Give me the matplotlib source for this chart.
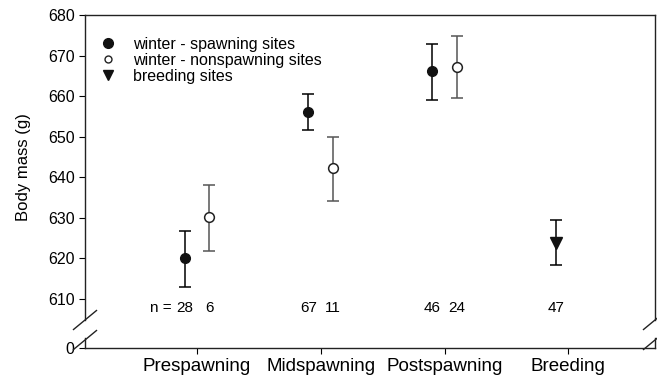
import matplotlib.pyplot as plt
from matplotlib.lines import Line2D
import numpy as np

plt.rcParams['font.family'] = ['Liberation Sans', 'DejaVu Sans']

# dados
categorias = ['Prespawning', 'Midspawning', 'Postspawning', 'Breeding']

# winter - spawning sites
media_desova = [620.1, 656.2, 666.3]
sup_desova = [626.8, 660.5, 672.9]
inf_desova = [613.0, 651.7, 659.1]
n_desova = [28, 67, 46]

# winter - nonspawning sites
media_nao_desova = [630.1, 642.2, 667.3]
sup_nao_desova = [638.1, 649.9, 674.7]
inf_nao_desova = [621.9, 634.1, 659.5]
n_nao_desova = [6, 11, 24]

# breeding sites
media_reproducao = [623.9]
sup_reproducao = [629.5]
inf_reproducao = [618.4]
n_reproducao = [47]

W, H = 657, 375
fig = plt.figure(figsize=(W / 100, H / 100), dpi=100)

esq, dir_ = 85, 655
ax = fig.add_axes([esq / W, (H - 320) / H, (dir_ - esq) / W, 305 / H])
ax0 = fig.add_axes([esq / W, (H - 348) / H, (dir_ - esq) / W, 10 / H])

x = np.arange(1, len(categorias) + 1)
desl = 0.1

def barras(eixo, xs, media, sup, inf, **kw):
    media = np.array(media)
    yerr = [media - np.array(inf), np.array(sup) - media]
    eixo.errorbar(xs, media, yerr=yerr, fmt='none', capsize=4.5,
                  elinewidth=1.1, capthick=1.1, ecolor=kw.pop('ecolor', 'black'))
    eixo.plot(xs, media, linestyle='none', **kw)

barras(ax, x[:3] - desl, media_desova, sup_desova, inf_desova,
       marker='o', markersize=7, color='#111111')
barras(ax, x[:3] + desl, media_nao_desova, sup_nao_desova, inf_nao_desova,
       marker='o', markersize=7, markerfacecolor='white',
       markeredgecolor='#222222', markeredgewidth=1.1, ecolor='#555555')
barras(ax, x[3:] - desl, media_reproducao, sup_reproducao, inf_reproducao,
       marker='v', markersize=8, color='#111111')

# tamanhos de amostra
y_n = 607.8
fs_n = 11
for xi, n in zip(x[:3] - desl, n_desova):
    ax.text(xi, y_n, str(n), ha='center', va='center', fontsize=fs_n)
for xi, n in zip(x[:3] + desl, n_nao_desova):
    ax.text(xi, y_n, str(n), ha='center', va='center', fontsize=fs_n)
for xi, n in zip(x[3:] - desl, n_reproducao):
    ax.text(xi, y_n, str(n), ha='center', va='center', fontsize=fs_n)
ax.annotate('n = ', xy=(x[0] - desl, y_n), xytext=(-6, 0),
            textcoords='offset points', ha='right', va='center', fontsize=fs_n)

xlim = (0.095, 4.70)
ax.set_xlim(*xlim)
ax.set_ylim(604.8, 680)
ax.set_yticks(np.arange(610, 681, 10))
ax.set_xticks([])
ax.spines['bottom'].set_visible(False)
ax.tick_params(axis='y', direction='out', length=4.5, labelsize=11.5, pad=3)
ax.set_ylabel('Body mass (g)', fontsize=12, labelpad=12)

ax0.set_xlim(*xlim)
ax0.set_ylim(0, 10)
ax0.set_yticks([0])
ax0.set_xticks(x)
ax0.set_xticklabels(categorias)
ax0.spines['top'].set_visible(False)
ax0.tick_params(direction='out', length=4.5, labelsize=11.5, pad=3)
ax0.tick_params(axis='x', labelsize=13.5, pad=3)
ax0.patch.set_alpha(0)

for a in (ax, ax0):
    for s in a.spines.values():
        s.set_linewidth(1.0)
        s.set_color('#222222')

# marcas de quebra do eixo
for xc in (esq, dir_):
    for yc in (320, 340):
        fig.add_artist(Line2D([(xc - 11.5) / W, (xc + 11.5) / W],
                              [(H - yc - 9.5) / H, (H - yc + 9.5) / H],
                              transform=fig.transFigure, color='#222222', lw=1.0))

# legenda
simbolos = [
    Line2D([], [], linestyle='none', marker='o', markersize=7, color='#111111'),
    Line2D([], [], linestyle='none', marker='o', markersize=5, markerfacecolor='white',
           markeredgecolor='#222222'),
    Line2D([], [], linestyle='none', marker='v', markersize=7, color='#111111'),
]
ax.legend(simbolos, ['winter - spawning sites', 'winter - nonspawning sites', 'breeding sites'],
          loc='upper left', bbox_to_anchor=(-0.006, 0.975), frameon=False, fontsize=11.5,
          handletextpad=0.8, labelspacing=0.05, handlelength=1.5, borderpad=0.4)

fig.savefig('out.png', dpi=100)
